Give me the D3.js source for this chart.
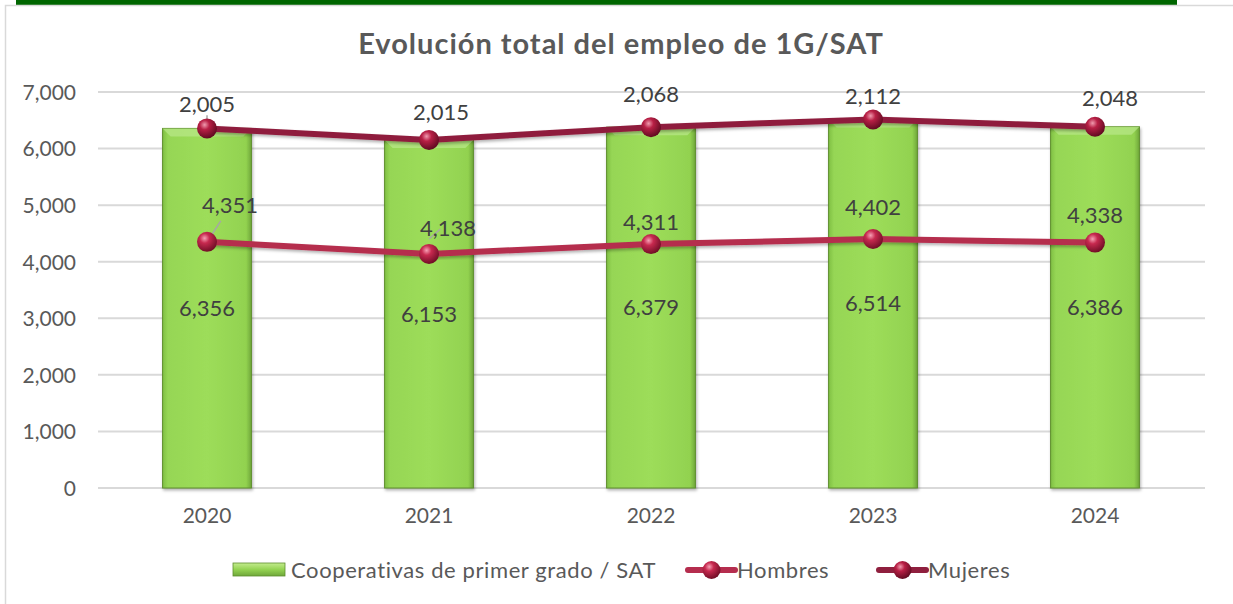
<!DOCTYPE html>
<html><head><meta charset="utf-8">
<script src="https://cdn.jsdelivr.net/npm/d3@7"></script>
<style>
html,body{margin:0;padding:0;background:#fff;}
svg{display:block;font-family:Lato,"Open Sans",sans-serif;}
</style></head>
<body>
<svg id="chart" width="1233" height="604"></svg>
<script>
const years = ["2020","2021","2022","2023","2024"];
const totals = [6356, 6153, 6379, 6514, 6386];
const hombres = [4351, 4138, 4311, 4402, 4338];
const mujeres = [2005, 2015, 2068, 2112, 2048];
const yTicks = [0,1000,2000,3000,4000,5000,6000,7000];
const seriesNames = ["Cooperativas de primer grado / SAT","Hombres","Mujeres"];
const titleText = "Evolución total del empleo de 1G/SAT";

// label placement offsets (style only)
const hOff = [[23,-37,true],[19,-26,false],[0,-22,false],[0,-32,true],[0,-27,false]];
const mOff = [[0,-24,false],[12,-28,false],[0,-33,true],[0,-23,false],[15,-28,false]];

const svg = d3.select("#chart");
const defs = svg.append("defs");

// bar gradient
const bg = defs.append("linearGradient").attr("id","barG").attr("x1","0").attr("x2","1").attr("y1","0").attr("y2","0");
bg.append("stop").attr("offset","0").attr("stop-color","#7fbf44");
bg.append("stop").attr("offset","0.06").attr("stop-color","#96d655");
bg.append("stop").attr("offset","0.5").attr("stop-color","#9ddd5a");
bg.append("stop").attr("offset","0.94").attr("stop-color","#92d250");
bg.append("stop").attr("offset","1").attr("stop-color","#6fa73a");
const bgl = defs.append("linearGradient").attr("id","legG").attr("x1","0").attr("x2","0").attr("y1","0").attr("y2","1");
bgl.append("stop").attr("offset","0").attr("stop-color","#c4ec8e");
bgl.append("stop").attr("offset","0.5").attr("stop-color","#94d352");
bgl.append("stop").attr("offset","1").attr("stop-color","#6fa73a");

function sphere(id, light, mid, dark){
  const g = defs.append("radialGradient").attr("id",id).attr("cx","0.38").attr("cy","0.32").attr("r","0.7");
  g.append("stop").attr("offset","0").attr("stop-color",light);
  g.append("stop").attr("offset","0.35").attr("stop-color",mid);
  g.append("stop").attr("offset","1").attr("stop-color",dark);
}
sphere("sphH","#f6a0b4","#c7294f","#6e0d25");
sphere("sphM","#f09aae","#b81f45","#5e0a20");

const shadow = defs.append("filter").attr("id","sh").attr("x","-20%").attr("y","-20%").attr("width","140%").attr("height","160%");
shadow.append("feDropShadow").attr("dx","1").attr("dy","2").attr("stdDeviation","1.5").attr("flood-color","#000").attr("flood-opacity","0.3");

// frame
svg.append("rect").attr("x",16).attr("y",0).attr("width",1161).attr("height",5).attr("fill","#006600");
svg.append("path").attr("d","M5.5,604 L5.5,5.5 L1233,5.5").attr("fill","none").attr("stroke","#d9d9d9").attr("stroke-width",1.5);

// title
svg.append("text").attr("x",621).attr("y",54).attr("text-anchor","middle")
  .attr("font-size",29).attr("font-weight","bold").attr("letter-spacing",1).attr("fill","#595959").text(titleText);

const x = d3.scaleBand().domain(years).range([96,1206]).paddingInner(0.6).paddingOuter(0.3);
const y = d3.scaleLinear().domain([0,7000]).range([488,92]);

// gridlines
svg.append("g").selectAll("line").data(yTicks).join("line")
  .attr("x1",98).attr("x2",1205).attr("y1",d=>y(d)).attr("y2",d=>y(d))
  .attr("stroke","#d9d9d9").attr("stroke-width",2);

// y axis labels
const yAxis = d3.axisLeft(y).tickValues(yTicks).tickFormat(d3.format(",")).tickSize(0).tickPadding(0);
const ya = svg.append("g").attr("transform","translate(76,0)").call(yAxis);
ya.select(".domain").remove();
ya.selectAll("text").attr("font-size",21).attr("fill","#595959").attr("font-family","Lato,sans-serif").attr("dy","0.35em");

// x axis labels
const xAxis = d3.axisBottom(x).tickSize(0).tickPadding(0);
const xa = svg.append("g").attr("transform","translate(0,508)").call(xAxis);
xa.select(".domain").remove();
xa.selectAll("text").attr("font-size",21).attr("fill","#595959").attr("font-family","Lato,sans-serif").attr("dy","0.71em");

// bars
const bars = svg.append("g");
bars.selectAll("rect").data(totals).join("rect")
  .attr("x",(d,i)=>x(years[i])).attr("width",x.bandwidth())
  .attr("y",d=>y(d)).attr("height",d=>y(0)-y(d))
  .attr("fill","url(#barG)").attr("stroke","#5e8e2e").attr("stroke-width",1)
  .attr("filter","url(#sh)");
// top bevel highlight
bars.selectAll("path.bev").data(totals).join("path").attr("class","bev")
  .attr("d",(d,i)=>{const x0=x(years[i]),w=x.bandwidth(),t=y(d);return `M${x0},${t} L${x0+w},${t} L${x0+w-8},${t+8} L${x0+8},${t+8} Z`;})
  .attr("fill","#b9e88a").attr("opacity",0.7);

const cx = i => x(years[i]) + x.bandwidth()/2;
const stacked = mujeres.map((d,i)=>d+hombres[i]);

const line = d3.line().x((d,i)=>cx(i)).y(d=>y(d));
svg.append("path").datum(hombres).attr("d",line).attr("fill","none").attr("stroke","#b52d4e").attr("stroke-width",6).attr("filter","url(#sh)");
svg.append("path").datum(stacked).attr("d",line).attr("fill","none").attr("stroke","#8f1f3e").attr("stroke-width",6).attr("filter","url(#sh)");

// leader lines
function leaders(vals, off){
  svg.append("g").selectAll("line").data(vals).join("line")
    .filter((d,i)=>off[i][2])
    .attr("x1",(d,i)=>cx(i)).attr("y1",d=>y(d))
    .attr("x2",(d,i)=>cx(i)+off[i][0]*0.6).attr("y2",(d,i)=>y(d)+off[i][1]+ (off[i][0]===0?12:16))
    .attr("stroke","#a6a6a6").attr("stroke-width",1.5);
}
leaders(hombres,hOff);
leaders(stacked,mOff);

svg.append("g").selectAll("circle").data(hombres).join("circle")
  .attr("cx",(d,i)=>cx(i)).attr("cy",d=>y(d)).attr("r",10).attr("fill","url(#sphH)");
svg.append("g").selectAll("circle").data(stacked).join("circle")
  .attr("cx",(d,i)=>cx(i)).attr("cy",d=>y(d)).attr("r",10).attr("fill","url(#sphM)");

const fmt = d3.format(",");
// labels
svg.append("g").selectAll("text").data(totals).join("text")
  .attr("x",(d,i)=>cx(i)).attr("y",d=>y(d/2)).attr("dy","0.35em").attr("text-anchor","middle")
  .attr("font-size",22).attr("fill","#404040").text(d=>fmt(d));
svg.append("g").selectAll("text").data(hombres).join("text")
  .attr("x",(d,i)=>cx(i)+hOff[i][0]).attr("y",(d,i)=>y(d)+hOff[i][1]).attr("dy","0.35em").attr("text-anchor","middle")
  .attr("font-size",22).attr("fill","#404040").text(d=>fmt(d));
svg.append("g").selectAll("text").data(stacked).join("text")
  .attr("x",(d,i)=>cx(i)+mOff[i][0]).attr("y",(d,i)=>y(d)+mOff[i][1]).attr("dy","0.35em").attr("text-anchor","middle")
  .attr("font-size",22).attr("fill","#404040").text((d,i)=>fmt(mujeres[i]));

// legend
const lg = svg.append("g");
lg.append("rect").attr("x",233).attr("y",563).attr("width",52).attr("height",13).attr("fill","url(#legG)").attr("stroke","#5e8e2e").attr("stroke-width",0.8);
lg.append("text").attr("x",291).attr("y",570).attr("dy","0.35em").attr("font-size",22).attr("letter-spacing",0.6).attr("fill","#595959").text(seriesNames[0]);
[[688,"#b52d4e","url(#sphH)",seriesNames[1]],[879,"#8f1f3e","url(#sphM)",seriesNames[2]]].forEach(([lx,c,f,t])=>{
  lg.append("line").attr("x1",lx).attr("x2",lx+47).attr("y1",570).attr("y2",570).attr("stroke",c).attr("stroke-width",6).attr("stroke-linecap","round");
  lg.append("circle").attr("cx",lx+23.5).attr("cy",570).attr("r",9).attr("fill",f);
  lg.append("text").attr("x",lx+49).attr("y",570).attr("dy","0.35em").attr("font-size",22).attr("letter-spacing",0.6).attr("fill","#595959").text(t);
});
</script>
</body></html>
